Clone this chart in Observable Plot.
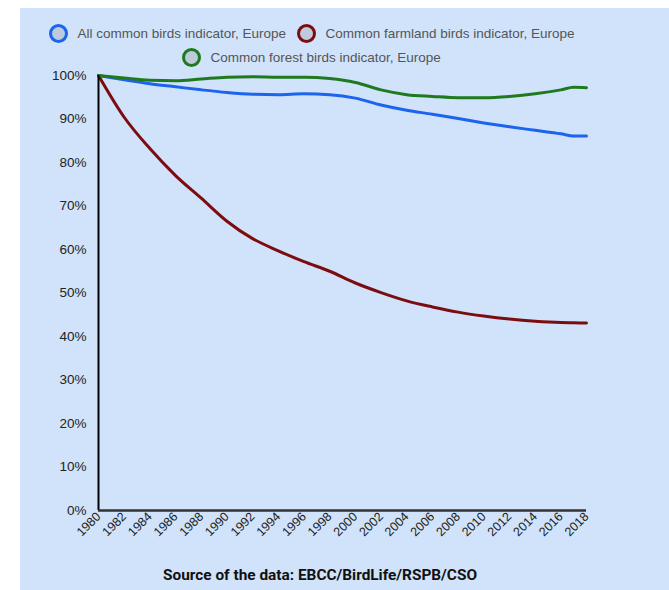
<!DOCTYPE html>
<html><head><meta charset="utf-8">
<script src="https://cdn.jsdelivr.net/npm/d3@7"></script>
<script src="https://cdn.jsdelivr.net/npm/@observablehq/plot@0.6"></script>
<style>
body{margin:0;background:#fff;width:669px;height:590px;overflow:hidden;position:relative;font-family:"Liberation Sans",Arial,sans-serif;}
#panel{position:absolute;left:20px;top:8px;width:649px;height:582px;background:#d0e3fa;}
.lg{position:absolute;display:flex;align-items:center;font-size:13.5px;color:#555;white-space:nowrap;height:20px;}
.lg span.c{display:inline-block;box-sizing:border-box;width:19px;height:19px;border-radius:50%;border:3.5px solid;background:#bfcbdd;margin-right:0;}
.lg span.t{margin-left:10px;}
#chart{position:absolute;left:0;top:60px;}
#cap{position:absolute;left:0;width:600px;top:558px;text-align:center;font-family:Roboto,sans-serif;font-weight:bold;font-size:15.4px;color:#111;}
</style></head>
<body>
<div id="panel">
  <div id="legend"></div>
  <div id="chart"></div>
  <div id="cap">Source of the data: EBCC/BirdLife/RSPB/CSO</div>
</div>
<script>
const years    = [1980,1982,1984,1986,1988,1990,1992,1994,1996,1998,2000,2002,2004,2006,2008,2010,2012,2014,2016,2017,2018];
const allBirds = [100,99.0,98.1,97.4,96.7,96.1,95.7,95.6,95.8,95.6,94.8,93.2,92.0,91.1,90.1,89.1,88.2,87.4,86.6,86.1,86.1];
const farmland = [100,90.4,83.2,77.0,71.8,66.5,62.5,59.7,57.2,55.0,52.3,50.1,48.2,46.8,45.6,44.7,44.0,43.5,43.2,43.15,43.1];
const forest   = [100,99.4,98.9,98.8,99.2,99.6,99.7,99.6,99.6,99.3,98.4,96.7,95.6,95.2,94.9,94.9,95.2,95.8,96.7,97.3,97.2];
const seriesNames = ["All common birds indicator, Europe","Common farmland birds indicator, Europe","Common forest birds indicator, Europe"];
const seriesColors = ["#1c63ee","#7b0c10","#1f7a1f"];
const yTicks = [0,10,20,30,40,50,60,70,80,90,100];
const xTicks = d3.range(1980, 2019, 2);

const seriesValues = [allBirds, farmland, forest];
const rows = [];
seriesValues.forEach((vals, s) => vals.forEach((v, i) => rows.push({year: years[i], value: v, series: seriesNames[s]})));

// legend (circle centre positions, page coords minus panel offset)
const legendPos = [[38,25],[286,25],[171,49]];
const lg = document.getElementById("legend");
seriesNames.forEach((n, i) => {
  const d = document.createElement("div");
  d.className = "lg";
  d.style.left = (legendPos[i][0] - 9.5) + "px";
  d.style.top = (legendPos[i][1] - 10) + "px";
  d.innerHTML = `<span class="c" style="border-color:${seriesColors[i]}"></span><span class="t">${n}</span>`;
  lg.appendChild(d);
});

const chart = Plot.plot({
  width: 649,
  height: 498,
  marginLeft: 78,
  marginRight: 83,
  marginTop: 7,
  marginBottom: 56,
  style: {background: "transparent", fontFamily: "'Liberation Sans', Arial, sans-serif", fontSize: "12.5px", color: "#222"},
  x: {domain: [1980, 2018], ticks: xTicks, tickFormat: d => String(d), label: null},
  y: {domain: [0, 100], ticks: yTicks, tickFormat: d => d + "%", label: null},
  color: {domain: seriesNames, range: seriesColors},
  marks: [
    Plot.axisY({ticks: yTicks, tickFormat: d => d + "%", tickSize: 0, tickPadding: 12, fontSize: 13.5, fill: "#222"}),
    Plot.axisX({ticks: xTicks, tickFormat: d => String(d), tickSize: 0, tickRotate: -45, tickPadding: 4, fontSize: 12.5, fill: "#222"}),
    Plot.line(rows, {x: "year", y: "value", z: "series", stroke: "series", strokeWidth: 3, curve: "monotone-x"}),
    Plot.ruleX([1980], {stroke: "#000", strokeWidth: 2}),
    Plot.ruleY([0], {stroke: "#333", strokeWidth: 2.5})
  ]
});
document.getElementById("chart").appendChild(chart);
</script>
</body></html>
